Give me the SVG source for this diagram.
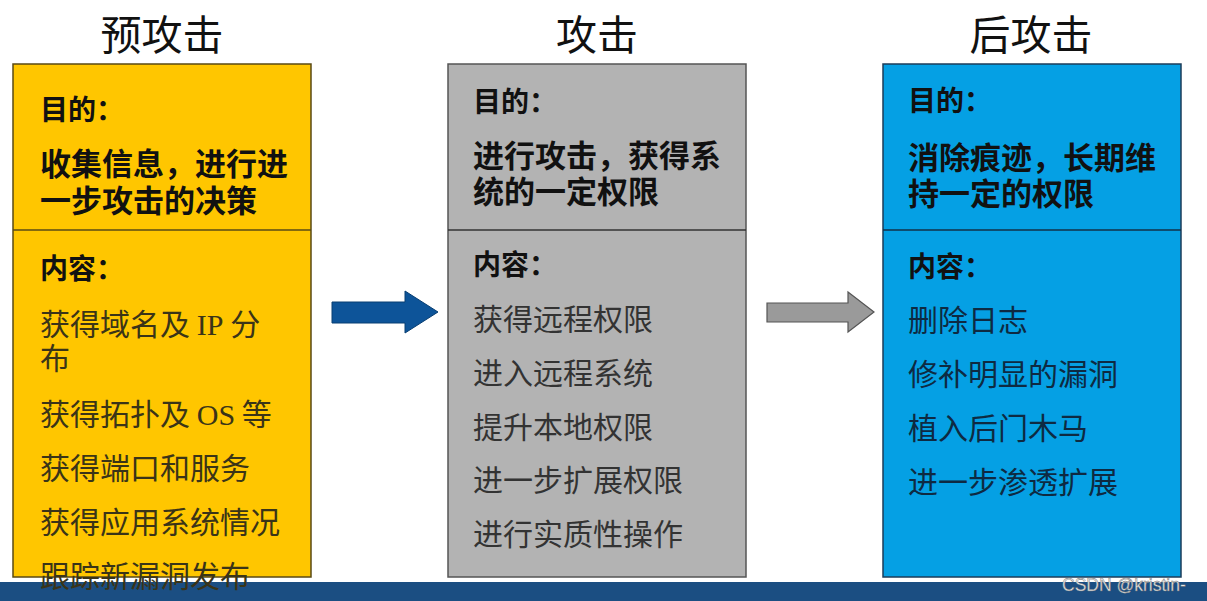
<svg xmlns="http://www.w3.org/2000/svg" width="1207" height="601" viewBox="0 0 1207 601">
<style>
.hdr{font-family:"Noto Sans CJK SC","Noto Sans",sans-serif;font-size:41px;fill:#111;text-anchor:middle}
.ttl{font-family:"Noto Sans CJK SC","Noto Sans",sans-serif;font-size:28px;font-weight:700;fill:#111}
.big{font-family:"Noto Sans CJK SC","Noto Sans",sans-serif;font-size:31px;font-weight:700;fill:#111}
.item{font-family:"Noto Sans CJK SC","Noto Sans",sans-serif;font-size:30px;font-weight:400}
.lat{font-family:"Liberation Serif",serif}
.c1{fill:#3a3418}
.c2{fill:#333}
.c3{fill:#0e2a42}
.wm{font-family:"Liberation Sans",Arial,sans-serif;font-size:17.5px;fill:#e6e6e6;stroke:#6a6a6a;stroke-width:0.4}
</style>
<rect x="0" y="582" width="1207" height="19" fill="#1b4e82"/>
<g id="node-pre">
<text class="hdr" x="162" y="50">预攻击</text>
<rect x="13" y="64" width="298" height="513" fill="#ffc600" stroke="#5a4a14" stroke-width="1.5"/>
<line x1="13" y1="230" x2="311" y2="230" stroke="#5a4a14" stroke-width="1.5"/>
<text class="ttl" x="40" y="120">目的：</text>
<text class="big" x="40" y="175">收集信息，进行进<tspan x="40" dy="37">一步攻击的决策</tspan></text>
<text class="ttl" x="40" y="279">内容：</text>
<text class="item c1" x="40" y="335">获得域名及 <tspan class="lat">IP</tspan> 分<tspan x="40" dy="34">布</tspan></text>
<text class="item c1" x="40" y="425">获得拓扑及 <tspan class="lat">OS</tspan> 等</text>
<text class="item c1" x="40" y="479">获得端口和服务</text>
<text class="item c1" x="40" y="533">获得应用系统情况</text>
<text class="item c1" x="40" y="587">跟踪新漏洞发布</text>
</g>
<g id="node-attack">
<text class="hdr" x="597" y="50">攻击</text>
<rect x="448" y="64" width="298" height="513" fill="#b3b3b3" stroke="#555" stroke-width="1.5"/>
<line x1="448" y1="230" x2="746" y2="230" stroke="#333" stroke-width="1.5"/>
<text class="ttl" x="473" y="112">目的：</text>
<text class="big" x="473" y="167">进行攻击，获得系<tspan x="473" dy="36">统的一定权限</tspan></text>
<text class="ttl" x="473" y="275">内容：</text>
<text class="item c2" x="473" y="330">获得远程权限</text>
<text class="item c2" x="473" y="384">进入远程系统</text>
<text class="item c2" x="473" y="438">提升本地权限</text>
<text class="item c2" x="473" y="491">进一步扩展权限</text>
<text class="item c2" x="473" y="545">进行实质性操作</text>
</g>
<g id="node-post">
<text class="hdr" x="1031" y="50">后攻击</text>
<rect x="883" y="64" width="298" height="513" fill="#05a0e4" stroke="#1c3d5a" stroke-width="1.5"/>
<line x1="883" y1="230" x2="1181" y2="230" stroke="#123048" stroke-width="1.5"/>
<text class="ttl" x="908" y="111">目的：</text>
<text class="big" x="908" y="169">消除痕迹，长期维<tspan x="908" dy="36">持一定的权限</tspan></text>
<text class="ttl" x="908" y="277">内容：</text>
<text class="item c3" x="908" y="331">删除日志</text>
<text class="item c3" x="908" y="385">修补明显的漏洞</text>
<text class="item c3" x="908" y="439">植入后门木马</text>
<text class="item c3" x="908" y="493">进一步渗透扩展</text>
</g>
<g id="connectors">
<polygon points="332,302 405,302 405,291 438,312 405,333 405,323 332,323" fill="#0d5499" stroke="#083e72" stroke-width="1"/>
<polygon points="767,303 848,303 848,292 874,312 848,332 848,322 767,322" fill="#9a9a9a" stroke="#555" stroke-width="1.2"/>
</g>
<text class="wm" x="1062" y="591">CSDN @kristin-</text>
</svg>
